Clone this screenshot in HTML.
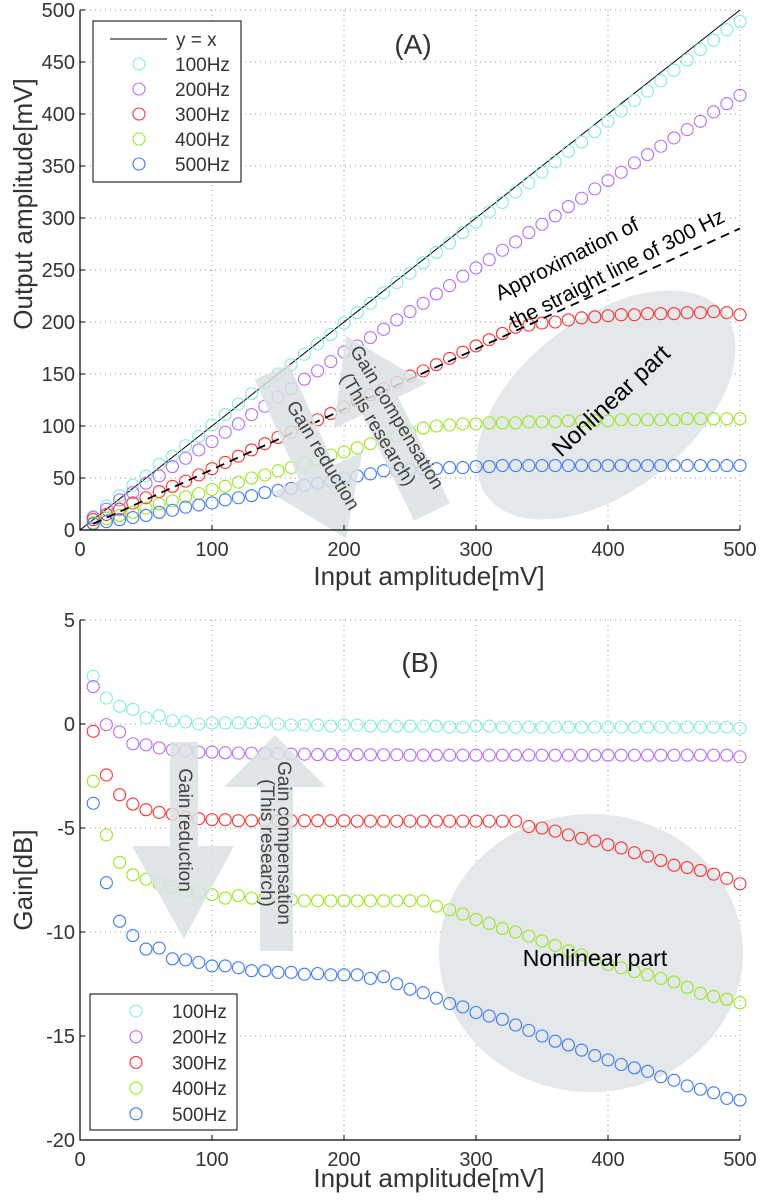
<!DOCTYPE html>
<html><head><meta charset="utf-8"><style>
body{margin:0;background:#fff;}
svg{display:block;font-family:"Liberation Sans",Arial,sans-serif;}
</style></head><body>
<svg id="fig" width="760" height="1200" viewBox="0 0 760 1200" xmlns="http://www.w3.org/2000/svg">
<rect width="760" height="1200" fill="#fff"/>
<g id="gridA"></g>
<g id="gridB"></g>
<ellipse cx="606" cy="405" rx="150" ry="86" transform="rotate(-38 606 405)" fill="#e4e8ea"/>
<ellipse cx="591" cy="953" rx="152" ry="139" fill="#e4e8ea"/>
<g id="marksA"></g>
<g id="marksB"></g>
<g fill="#dbe2e4" opacity="0.85">
<polygon transform="translate(272,372) rotate(-24)" points="-19,0 19,0 19,110 50,110 0,182 -50,110 -19,110"/>
<polygon transform="translate(432,512) rotate(-26)" points="-20,0 20,0 20,-118 52,-118 0,-196 -52,-118 -20,-118"/>
<polygon points="170,742 198,742 198,846 234,846 184,939 132,846 170,846"/>
<polygon points="260,951 293,951 293,787 326,787 275,735 224,787 260,787"/>
</g>
<g fill="#444" font-size="19">
<text transform="translate(322,456) rotate(59)" text-anchor="middle" dominant-baseline="middle">Gain reduction</text>
<text transform="translate(396,418) rotate(59)" text-anchor="middle" dominant-baseline="middle">Gain compensation</text>
<text transform="translate(377,430) rotate(59)" text-anchor="middle" dominant-baseline="middle">(This research)</text>
<text transform="translate(184,830) rotate(90)" text-anchor="middle" dominant-baseline="middle">Gain reduction</text>
<text transform="translate(283,843) rotate(90)" text-anchor="middle" dominant-baseline="middle">Gain compensation</text>
<text transform="translate(266,843) rotate(90)" text-anchor="middle" dominant-baseline="middle">(This research)</text>
</g>
<text transform="translate(612,402) rotate(-43)" text-anchor="middle" dominant-baseline="middle" font-size="24" fill="#000">Nonlinear part</text>
<text x="595" y="966" text-anchor="middle" font-size="23" fill="#000">Nonlinear part</text>
<text transform="translate(570,265) rotate(-27)" text-anchor="middle" font-size="21" fill="#000">Approximation of</text>
<text transform="translate(620,275) rotate(-27)" text-anchor="middle" font-size="21" fill="#000">the straight line of 300 Hz</text>
<text x="413" y="54" text-anchor="middle" font-size="28" fill="#333">(A)</text>
<text x="420" y="672" text-anchor="middle" font-size="28" fill="#333">(B)</text>
<g id="axesA"></g>
<g id="axesB"></g>
<text x="429" y="585" text-anchor="middle" font-size="26" fill="#333">Input amplitude[mV]</text>
<text transform="translate(32,204) rotate(-90)" text-anchor="middle" font-size="26" fill="#333">Output amplitude[mV]</text>
<text x="429" y="1187" text-anchor="middle" font-size="26" fill="#333">Input amplitude[mV]</text>
<text transform="translate(32,880) rotate(-90)" text-anchor="middle" font-size="26" fill="#333">Gain[dB]</text>
<g id="legendA"></g>
<g id="legendB"></g>
</svg>
<script>
const inputs = [10,20,30,40,50,60,70,80,90,100,110,120,130,140,150,160,170,180,190,200,210,220,230,240,250,260,270,280,290,300,310,320,330,340,350,360,370,380,390,400,410,420,430,440,450,460,470,480,490,500];
const seriesNames = ["100Hz","200Hz","300Hz","400Hz","500Hz"];
const seriesColors = ["#7ff0d8","#b56cff","#ff3030","#98e81e","#3a78ff"];
const out100 = [13,23,33,43,52,63,71,81,90,101,111,121,131,142,150,159,169,179,188,199,209,218,228,238,247,257,267,276,286,296,306,315,325,334,344,354,364,373,383,393,403,413,422,432,442,452,462,471,481,489];
const out200 = [12,20,29,36,45,52,61,69,77,85,94,102,111,119,128,136,145,153,162,171,177,185,193,202,210,218,227,235,244,252,260,269,277,286,294,302,311,319,328,336,344,353,361,369,377,385,393,402,410,418];
const out300 = [10,15,20,26,31,37,42,47,53,59,65,71,77,83,89,94,100,106,112,118,124,130,136,142,148,153,159,165,171,177,183,189,195,197,199,200,202,204,205,206,207,207,208,208,208,209,209,210,209,207];
const out400 = [7,11,14,17,21,25,28,32,35,39,42,46,50,53,57,60,64,68,72,75,79,83,87,90,94,98,100,101,102,102,103,103,103,104,104,104,105,105,105,105,106,106,106,106,106,107,107,107,107,107];
const out500 = [6,8,10,12,14,17,19,22,24,26,29,31,33,36,38,40,43,45,47,50,52,54,57,57,58,59,59,60,60,61,61,62,62,62,62,62,62,62,62,62,62,62,62,62,62,62,62,62,62,62];
const gain100 = [2.3,1.25,0.85,0.7,0.3,0.4,0.15,0.1,0,0.05,0.05,0.05,0.05,0.1,0,-0.05,-0.05,-0.05,-0.1,-0.05,-0.05,-0.1,-0.1,-0.1,-0.1,-0.1,-0.1,-0.15,-0.15,-0.1,-0.1,-0.15,-0.15,-0.15,-0.15,-0.15,-0.15,-0.15,-0.15,-0.15,-0.15,-0.15,-0.15,-0.15,-0.15,-0.15,-0.15,-0.15,-0.15,-0.2];
const gain200 = [1.8,-0.03,-0.38,-0.95,-1.0,-1.15,-1.24,-1.29,-1.35,-1.35,-1.38,-1.4,-1.4,-1.42,-1.42,-1.45,-1.45,-1.47,-1.47,-1.47,-1.47,-1.48,-1.48,-1.48,-1.5,-1.5,-1.5,-1.5,-1.5,-1.5,-1.5,-1.5,-1.5,-1.5,-1.5,-1.5,-1.5,-1.5,-1.5,-1.5,-1.5,-1.5,-1.5,-1.5,-1.5,-1.5,-1.5,-1.5,-1.5,-1.58];
const gain300 = [-0.35,-2.45,-3.4,-3.85,-4.12,-4.25,-4.33,-4.5,-4.55,-4.6,-4.6,-4.65,-4.65,-4.65,-4.65,-4.65,-4.65,-4.65,-4.65,-4.65,-4.67,-4.67,-4.67,-4.67,-4.67,-4.67,-4.67,-4.67,-4.67,-4.67,-4.67,-4.67,-4.67,-4.93,-5.0,-5.15,-5.33,-5.5,-5.62,-5.8,-5.96,-6.19,-6.36,-6.56,-6.79,-6.9,-7.04,-7.22,-7.42,-7.68];
const gain400 = [-2.75,-5.33,-6.65,-7.25,-7.46,-7.68,-7.85,-8.02,-8.1,-8.2,-8.37,-8.25,-8.37,-8.37,-8.37,-8.45,-8.5,-8.5,-8.5,-8.5,-8.5,-8.5,-8.5,-8.5,-8.5,-8.5,-8.76,-8.93,-9.14,-9.4,-9.59,-9.83,-10.0,-10.2,-10.43,-10.65,-10.9,-11.1,-11.34,-11.55,-11.72,-11.9,-12.06,-12.23,-12.4,-12.66,-12.95,-13.1,-13.23,-13.4];
const gain500 = [-3.81,-7.63,-9.48,-10.17,-10.82,-10.77,-11.29,-11.34,-11.46,-11.63,-11.63,-11.72,-11.86,-11.86,-11.94,-11.94,-12.03,-12.0,-12.06,-12.06,-12.06,-12.23,-12.15,-12.49,-12.75,-12.92,-13.18,-13.44,-13.6,-13.87,-14.04,-14.2,-14.47,-14.73,-15.0,-15.25,-15.43,-15.68,-15.94,-16.15,-16.37,-16.53,-16.7,-16.96,-17.13,-17.4,-17.56,-17.73,-18.0,-18.08];
const xTicks = [0,100,200,300,400,500];
const yTicksA = [0,50,100,150,200,250,300,350,400,450,500];
const yTicksB = [5,0,-5,-10,-15,-20];
const approxLineX = [10,500];
const approxLineY = [6,290];
const outputSeries = [out100,out200,out300,out400,out500];
const gainSeries = [gain100,gain200,gain300,gain400,gain500];

const NS = "http://www.w3.org/2000/svg";
function mk(tag, attrs, parent){const e=document.createElementNS(NS,tag);for(const k in attrs)e.setAttribute(k,attrs[k]);parent.appendChild(e);return e;}
const L=80,R=740;
const xS = v => L + (v/500)*(R-L);
const yA = v => 530 - (v/500)*520;
const yB = v => 1140 - ((v+20)/25)*520;

function grid(g, yt, ys, top, bot, axesG){
  xTicks.forEach(t=>{ if(t>0){ const ln=mk("line",{x1:xS(t),x2:xS(t),y1:top,y2:bot,stroke:"#999","stroke-width":1,"stroke-dasharray":"1,4"},g);
      } });
  yt.forEach(t=>{ const y=ys(t); if(Math.abs(y-bot)>1){ const ln=mk("line",{x1:L,x2:R,y1:y,y2:y,stroke:"#999","stroke-width":1,"stroke-dasharray":"1,4"},g);
      } });
  const ax=mk("path",{d:`M${L},${top} V${bot} H${R}`,fill:"none",stroke:"#000","stroke-width":1.2},axesG);
   
  xTicks.forEach(t=>{ const tk=mk("line",{x1:xS(t),x2:xS(t),y1:bot,y2:bot-5,stroke:"#000"},axesG);
     
    const tx=mk("text",{x:xS(t),y:bot+26,"text-anchor":"middle","font-size":20,fill:"#333"},axesG); tx.textContent=t;
      });
  yt.forEach(t=>{ const y=ys(t); const tk=mk("line",{x1:L,x2:L+5,y1:y,y2:y,stroke:"#000"},axesG);
     
    const tx=mk("text",{x:L-5,y:y+7,"text-anchor":"end","font-size":20,fill:"#333"},axesG); tx.textContent=t;
      });
}
grid(document.getElementById("gridA"), yTicksA, yA, 10, 530, document.getElementById("axesA"));
grid(document.getElementById("gridB"), yTicksB, yB, 620, 1140, document.getElementById("axesB"));

const mA=document.getElementById("marksA");
const idl=mk("line",{x1:xS(0),y1:yA(0),x2:xS(500),y2:yA(500),stroke:"#000","stroke-width":1},mA);
 
outputSeries.forEach((arr,si)=>{ arr.forEach((v,i)=>{
  const c=mk("circle",{cx:xS(inputs[i]),cy:yA(v),r:6,fill:"none",stroke:seriesColors[si],"stroke-width":1.1},mA);
  
   }); });
const apl=mk("line",{x1:xS(approxLineX[0]),y1:yA(approxLineY[0]),x2:xS(approxLineX[1]),y2:yA(approxLineY[1]),stroke:"#000","stroke-width":1.8,"stroke-dasharray":"9,6"},mA);
 

const mB=document.getElementById("marksB");
gainSeries.forEach((arr,si)=>{ arr.forEach((v,i)=>{
  const c=mk("circle",{cx:xS(inputs[i]),cy:yB(v),r:6,fill:"none",stroke:seriesColors[si],"stroke-width":1.1},mB);
  
   }); });

const lA=document.getElementById("legendA");
const fa=mk("rect",{x:93,y:21,width:148,height:161,fill:"#fff",stroke:"#000","stroke-width":1},lA);
 
const ll=mk("line",{x1:110,x2:167,y1:39,y2:39,stroke:"#000"},lA);
 
const lt=mk("text",{x:176,y:46,"font-size":19,fill:"#333"},lA); lt.textContent="y = x";
 
seriesNames.forEach((n,i)=>{ const y=64+i*25;
  const c=mk("circle",{cx:139,cy:y,r:6,fill:"none",stroke:seriesColors[i],"stroke-width":1.1},lA);
   
  const t=mk("text",{x:175,y:y+7,"font-size":19,fill:"#333"},lA); t.textContent=n;
    });
const lB=document.getElementById("legendB");
const fb=mk("rect",{x:90,y:994,width:147,height:136,fill:"#fff",stroke:"#000","stroke-width":1},lB);
 
seriesNames.forEach((n,i)=>{ const y=1011+i*25.7;
  const c=mk("circle",{cx:136,cy:y,r:6,fill:"none",stroke:seriesColors[i],"stroke-width":1.1},lB);
   
  const t=mk("text",{x:172,y:y+7,"font-size":19,fill:"#333"},lB); t.textContent=n;
    });
</script>
</body></html>
